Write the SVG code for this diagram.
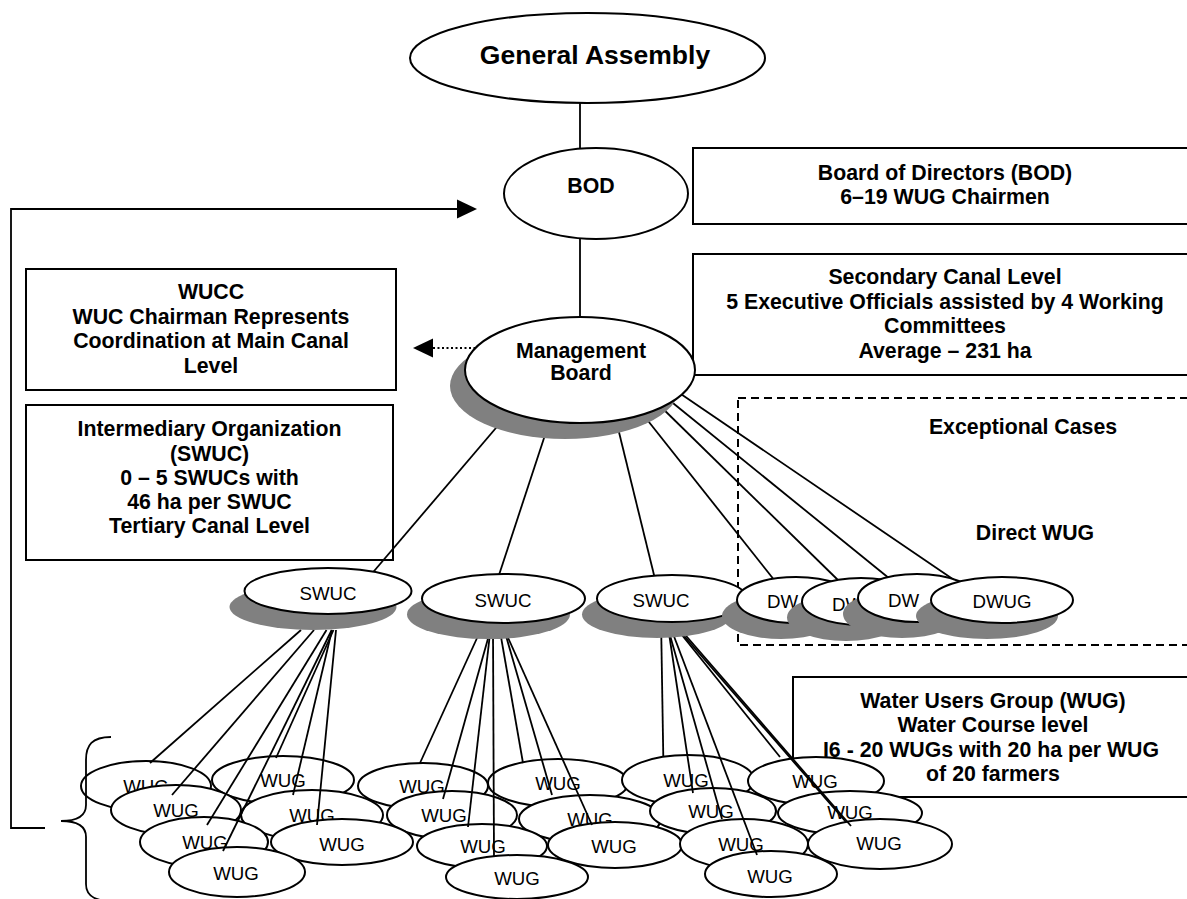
<svg xmlns="http://www.w3.org/2000/svg" width="1187" height="899" viewBox="0 0 1187 899">
  <defs>
    <style>
      .box{fill:#fff;stroke:#000;stroke-width:2}
      .dash{fill:none;stroke:#000;stroke-width:2;stroke-dasharray:8 5}
      .node{fill:#fff;stroke:#000;stroke-width:2}
      .shadow{fill:#808080}
      .lbl{font-family:"Liberation Sans",Arial,sans-serif;font-weight:bold;font-size:21.3px;text-anchor:middle;fill:#000}
      .sm{font-family:"Liberation Sans",Arial,sans-serif;font-size:18.7px;text-anchor:middle;fill:#000}
      .link{fill:none;stroke:#000;stroke-width:1.8}
      .dot{fill:none;stroke:#000;stroke-width:2;stroke-dasharray:2 2.5}
    </style>
    <marker id="head" viewBox="0 0 20 20" refX="0" refY="10" markerWidth="20" markerHeight="20" markerUnits="userSpaceOnUse" orient="auto">
      <path d="M0,0.5 L20,10 L0,19.5 Z" fill="#000"/>
    </marker>
  </defs>

  <!-- description boxes -->
  <g id="box-bod">
    <rect class="box" x="693" y="148" width="504" height="76"/>
    <text class="lbl"><tspan x="945" y="179.5">Board of Directors (BOD)</tspan><tspan x="945" y="203.5">6–19 WUG Chairmen</tspan></text>
  </g>
  <g id="box-secondary">
    <rect class="box" x="693" y="254" width="504" height="121"/>
    <text class="lbl"><tspan x="945" y="284">Secondary Canal Level</tspan><tspan x="945" y="308.5">5 Executive Officials assisted by 4 Working</tspan><tspan x="945" y="333">Committees</tspan><tspan x="945" y="357.5">Average – 231 ha</tspan></text>
  </g>
  <g id="box-wucc">
    <rect class="box" x="26" y="269" width="370" height="121"/>
    <text class="lbl"><tspan x="211" y="299">WUCC</tspan><tspan x="211" y="323.5">WUC Chairman Represents</tspan><tspan x="211" y="348">Coordination at Main Canal</tspan><tspan x="211" y="372.5">Level</tspan></text>
  </g>
  <g id="box-intermediary">
    <rect class="box" x="26" y="405" width="367" height="155"/>
    <text class="lbl"><tspan x="209.5" y="436">Intermediary Organization</tspan><tspan x="209.5" y="460.5">(SWUC)</tspan><tspan x="209.5" y="485">0 – 5 SWUCs with</tspan><tspan x="209.5" y="509">46 ha per SWUC</tspan><tspan x="209.5" y="533">Tertiary Canal Level</tspan></text>
  </g>
  <g id="box-exceptional">
    <rect class="dash" x="738" y="398" width="460" height="247"/>
    <text class="lbl" x="1023" y="434">Exceptional Cases</text>
    <text class="lbl" x="1035" y="540">Direct WUG</text>
  </g>
  <g id="box-wug">
    <rect class="box" x="793" y="677" width="404" height="120"/>
    <text class="lbl"><tspan x="993" y="708">Water Users Group (WUG)</tspan><tspan x="993" y="732">Water Course level</tspan><tspan x="991" y="756.5">I6 - 20 WUGs with 20 ha per WUG</tspan><tspan x="993" y="780.5">of 20 farmers</tspan></text>
  </g>

  <!-- water users groups, back rows first -->
  <g id="wug-a"><ellipse class="node" cx="146" cy="786" rx="65" ry="25"/><text class="sm" x="146" y="793">WUG</text></g>
  <g id="wug-b"><ellipse class="node" cx="283" cy="780" rx="71" ry="24"/><text class="sm" x="283" y="787">WUG</text></g>
  <g id="wug-h"><ellipse class="node" cx="423" cy="786" rx="65" ry="23"/><text class="sm" x="422" y="793">WUG</text></g>
  <g id="wug-j"><ellipse class="node" cx="558" cy="783" rx="70" ry="24"/><text class="sm" x="558" y="790">WUG</text></g>
  <g id="wug-p"><ellipse class="node" cx="688" cy="780" rx="66" ry="25"/><text class="sm" x="686" y="787">WUG</text></g>
  <g id="wug-t"><ellipse class="node" cx="816" cy="781" rx="68" ry="24"/><text class="sm" x="815" y="788">WUG</text></g>

  <g id="wug-c"><ellipse class="node" cx="176" cy="810" rx="65" ry="25"/><text class="sm" x="176" y="817">WUG</text></g>
  <g id="wug-d"><ellipse class="node" cx="312" cy="815" rx="71" ry="25"/><text class="sm" x="312" y="822">WUG</text></g>
  <g id="wug-i"><ellipse class="node" cx="452" cy="815" rx="65" ry="24"/><text class="sm" x="444" y="822">WUG</text></g>
  <g id="wug-k"><ellipse class="node" cx="590" cy="819" rx="71" ry="24"/><text class="sm" x="590" y="826">WUG</text></g>
  <g id="wug-q"><ellipse class="node" cx="713" cy="811" rx="63" ry="23"/><text class="sm" x="711" y="818">WUG</text></g>
  <g id="wug-u"><ellipse class="node" cx="850" cy="813" rx="72" ry="22"/><text class="sm" x="850" y="819">WUG</text></g>

  <g id="wug-e"><ellipse class="node" cx="204" cy="842" rx="64" ry="25"/><text class="sm" x="205" y="849">WUG</text></g>
  <g id="wug-f"><ellipse class="node" cx="342" cy="842" rx="71" ry="23"/><text class="sm" x="342" y="851">WUG</text></g>
  <g id="wug-l"><ellipse class="node" cx="482" cy="846" rx="65" ry="22"/><text class="sm" x="483" y="853">WUG</text></g>
  <g id="wug-m"><ellipse class="node" cx="615" cy="845" rx="67" ry="23"/><text class="sm" x="614" y="853">WUG</text></g>
  <g id="wug-r"><ellipse class="node" cx="744" cy="844" rx="64" ry="25"/><text class="sm" x="741" y="851">WUG</text></g>
  <g id="wug-v"><ellipse class="node" cx="880" cy="844" rx="72" ry="25"/><text class="sm" x="879" y="850">WUG</text></g>

  <g id="wug-g"><ellipse class="node" cx="237" cy="872" rx="68" ry="25"/><text class="sm" x="236" y="880">WUG</text></g>
  <g id="wug-n"><ellipse class="node" cx="517" cy="877" rx="71" ry="22"/><text class="sm" x="517" y="885">WUG</text></g>
  <g id="wug-s"><ellipse class="node" cx="771" cy="874" rx="66" ry="23"/><text class="sm" x="770" y="883">WUG</text></g>

  <!-- connectors -->
  <g id="connectors">
    <line class="link" x1="580" y1="100" x2="580" y2="152"/>
    <line class="link" x1="580" y1="236" x2="580" y2="320"/>

    <!-- management board to sub-units -->
    <line class="link" x1="507" y1="415" x2="369" y2="577"/>
    <line class="link" x1="547" y1="429" x2="498" y2="578"/>
    <line class="link" x1="616" y1="420" x2="655" y2="579"/>
    <line class="link" x1="641" y1="412" x2="775" y2="581"/>
    <line class="link" x1="656" y1="402" x2="841" y2="583"/>
    <line class="link" x1="663" y1="395" x2="890" y2="579"/>
    <line class="link" x1="675" y1="390" x2="960" y2="584"/>

    <!-- first SWUC to its groups -->
    <line class="link" x1="301" y1="630" x2="150" y2="763"/>
    <line class="link" x1="314" y1="630" x2="172" y2="795"/>
    <line class="link" x1="326.5" y1="630" x2="207" y2="825"/>
    <line class="link" x1="331.7" y1="630" x2="223" y2="851"/>
    <line class="link" x1="333.5" y1="630" x2="276" y2="758"/>
    <line class="link" x1="332" y1="630" x2="293" y2="795"/>
    <line class="link" x1="336" y1="630" x2="317" y2="825"/>

    <!-- second SWUC to its groups -->
    <line class="link" x1="480.7" y1="630" x2="420" y2="763"/>
    <line class="link" x1="490.4" y1="630" x2="443" y2="799"/>
    <line class="link" x1="490.4" y1="630" x2="468" y2="827"/>
    <line class="link" x1="493" y1="630" x2="494" y2="857"/>
    <line class="link" x1="499.8" y1="630" x2="523" y2="763"/>
    <line class="link" x1="504.3" y1="630" x2="552" y2="795"/>
    <line class="link" x1="504.6" y1="630" x2="592" y2="825"/>

    <!-- third SWUC to its groups -->
    <line class="link" x1="661.2" y1="630" x2="663.3" y2="757"/>
    <line class="link" x1="668.5" y1="630" x2="693" y2="793"/>
    <line class="link" x1="668.5" y1="630" x2="722" y2="819"/>
    <line class="link" x1="671.6" y1="630" x2="757" y2="855"/>
    <line class="link" x1="677.9" y1="630" x2="780" y2="757"/>
    <line class="link" x1="678.9" y1="630" x2="846" y2="822"/>
    <line class="link" x1="681" y1="630" x2="851" y2="826"/>

    <!-- feedback from the water users groups up to the board -->
    <path class="link" d="M45,828 L11,828 L11,209 L457,209" marker-end="url(#head)"/>
    <path class="link" d="M111,737 C92,737 86,745 86,760 L86,805 C86,815 78,821 61,821 C78,821 86,827 86,837 L86,884 C86,894 92,901 111,901"/>

    <!-- coordination link to WUCC -->
    <line class="dot" x1="480" y1="348" x2="433" y2="348" marker-end="url(#head)"/>
  </g>

  <!-- upper hierarchy -->
  <g id="general-assembly">
    <ellipse class="node" cx="587.5" cy="58" rx="177.5" ry="45"/>
    <text class="lbl" x="595" y="64" style="font-size:26.5px">General Assembly</text>
  </g>
  <g id="bod">
    <ellipse class="node" cx="596" cy="193.5" rx="92" ry="45.5"/>
    <text class="lbl" x="591" y="193">BOD</text>
  </g>
  <g id="management-board">
    <ellipse class="shadow" cx="565" cy="386" rx="115" ry="53"/>
    <ellipse class="node" cx="580" cy="370" rx="115" ry="53"/>
    <text class="lbl"><tspan x="581" y="358">Management</tspan><tspan x="581" y="380">Board</tspan></text>
  </g>

  <g id="swuc-1">
    <ellipse class="shadow" cx="313" cy="607" rx="83.5" ry="23"/>
    <ellipse class="node" cx="328" cy="591" rx="83.5" ry="23"/>
    <text class="sm" x="328" y="600">SWUC</text>
  </g>
  <g id="swuc-2">
    <ellipse class="shadow" cx="488.5" cy="614.5" rx="81.5" ry="24.5"/>
    <ellipse class="node" cx="503.5" cy="598.5" rx="81.5" ry="24.5"/>
    <text class="sm" x="503" y="607">SWUC</text>
  </g>
  <g id="swuc-3">
    <ellipse class="shadow" cx="657" cy="614.5" rx="75" ry="23.5"/>
    <ellipse class="node" cx="672" cy="598.5" rx="75" ry="23.5"/>
    <text class="sm" x="661" y="607">SWUC</text>
  </g>

  <g id="dwug-1">
    <ellipse class="shadow" cx="781" cy="616" rx="59" ry="23"/>
    <ellipse class="node" cx="796" cy="600" rx="59" ry="23"/>
    <text class="sm" x="782.5" y="608">DW</text>
  </g>
  <g id="dwug-2">
    <ellipse class="shadow" cx="846" cy="617.5" rx="59" ry="23.5"/>
    <ellipse class="node" cx="861" cy="601.5" rx="59" ry="23.5"/>
    <text class="sm" x="847.5" y="611">DW</text>
  </g>
  <g id="dwug-3">
    <ellipse class="shadow" cx="902" cy="614" rx="59" ry="24"/>
    <ellipse class="node" cx="917" cy="598" rx="59" ry="24"/>
    <text class="sm" x="903.5" y="607">DW</text>
  </g>
  <g id="dwug-4">
    <ellipse class="shadow" cx="987" cy="616" rx="71" ry="23"/>
    <ellipse class="node" cx="1002" cy="600" rx="71" ry="23"/>
    <text class="sm" x="1002" y="608">DWUG</text>
  </g>
</svg>
